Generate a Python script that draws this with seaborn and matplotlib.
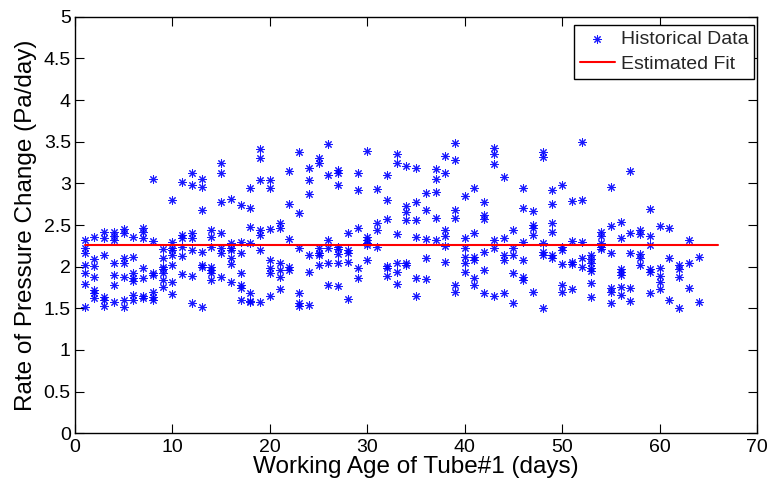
import matplotlib
matplotlib.use("Agg")
import matplotlib.pyplot as plt
from matplotlib.ticker import FuncFormatter
import seaborn as sns
import pandas as pd

# ---- data: rate of pressure change per working day ----
days_a = list(range(1, 17))
rates_a = [
    [2.32, 2.22, 2.17, 2.02, 1.93, 1.79, 1.52],
    [2.36, 2.09, 2.01, 1.88, 1.72, 1.68, 1.62],
    [2.42, 2.35, 2.14, 1.64, 1.60, 1.53],
    [2.42, 2.37, 2.32, 2.05, 1.90, 1.78, 1.58],
    [2.45, 2.40, 2.10, 2.05, 1.88, 1.60, 1.52],
    [2.36, 2.12, 1.92, 1.86, 1.83, 1.66, 1.60],
    [2.46, 2.42, 2.34, 1.99, 1.86, 1.65, 1.62],
    [3.05, 2.31, 1.92, 1.90, 1.70, 1.64, 1.60],
    [2.21, 2.10, 2.00, 1.97, 1.92, 1.84, 1.76],
    [2.80, 2.30, 2.22, 2.20, 2.14, 2.02, 1.82, 1.67],
    [3.02, 2.38, 2.35, 2.24, 2.13, 1.91],
    [3.12, 2.98, 2.40, 2.35, 2.20, 1.89, 1.57],
    [3.05, 2.96, 2.68, 2.18, 2.02, 2.00, 1.52],
    [2.44, 2.36, 2.24, 2.00, 1.96, 1.92, 1.84],
    [3.25, 3.12, 2.78, 2.41, 2.22, 2.16, 1.88],
    [2.81, 2.29, 2.22, 2.20, 2.11, 2.03, 1.82],
]
days_b = list(range(17, 33))
rates_b = [
    [2.74, 2.30, 2.17, 1.92, 1.78, 1.74, 1.60],
    [2.95, 2.70, 2.48, 2.28, 1.68, 1.59, 1.58],
    [3.41, 3.30, 3.04, 2.44, 2.38, 2.20, 1.58],
    [3.04, 2.94, 2.45, 2.08, 1.98, 1.92, 1.65],
    [2.52, 2.46, 2.04, 1.96, 1.88, 1.73],
    [3.15, 2.75, 2.33, 2.00, 1.96],
    [3.38, 2.65, 2.22, 1.69, 1.56, 1.53],
    [3.19, 3.04, 2.87, 2.14, 1.94, 1.54],
    [3.30, 3.25, 2.22, 2.17, 2.14, 2.02],
    [3.47, 3.10, 2.32, 2.23, 2.05, 1.78],
    [3.16, 3.12, 2.98, 2.24, 2.21, 2.15, 2.04, 1.77],
    [2.41, 2.20, 2.17, 2.06, 1.61],
    [3.13, 2.92, 2.47, 1.98, 1.87],
    [3.39, 2.36, 2.32, 2.28, 2.26, 2.08],
    [2.93, 2.52, 2.44, 2.24],
    [3.10, 2.80, 2.57, 2.01, 1.99, 1.89],
]
days_c = list(range(33, 49))
rates_c = [
    [3.35, 3.25, 2.39, 2.05, 1.94, 1.79],
    [3.21, 2.73, 2.66, 2.56, 2.04, 2.02],
    [3.18, 2.78, 2.56, 2.36, 1.86, 1.65],
    [2.88, 2.68, 2.33, 2.10, 1.85],
    [3.17, 3.05, 2.90, 2.58, 2.32],
    [3.33, 3.13, 2.44, 2.37, 2.25, 2.06],
    [3.48, 3.28, 2.68, 2.58, 1.78, 1.70],
    [2.85, 2.35, 2.22, 2.12, 2.04, 1.94],
    [2.94, 2.40, 2.12, 2.08, 1.86, 1.78],
    [2.78, 2.62, 2.57, 2.18, 1.96, 1.69],
    [3.43, 3.35, 3.23, 2.32, 2.22, 1.65],
    [3.08, 2.35, 2.14, 2.08, 1.68],
    [2.44, 2.23, 2.14, 1.92, 1.56],
    [2.95, 2.70, 2.30, 2.08, 1.88, 1.84],
    [2.67, 2.50, 2.47, 2.38, 1.70],
    [3.38, 3.32, 2.28, 2.18, 2.14, 1.50],
]
days_d = list(range(49, 65))
rates_d = [
    [2.92, 2.75, 2.52, 2.42, 2.14, 2.10],
    [2.98, 2.24, 2.20, 2.03, 1.78, 1.70],
    [2.79, 2.31, 2.06, 2.03, 1.73],
    [3.50, 2.80, 2.30, 2.10, 2.00],
    [2.14, 2.09, 2.05, 1.99, 1.95, 1.80, 1.64],
    [2.42, 2.37, 2.28, 2.24, 2.21],
    [2.96, 2.49, 2.16, 1.74, 1.70, 1.57],
    [2.54, 2.34, 1.97, 1.94, 1.90, 1.76, 1.66],
    [3.15, 2.40, 2.16, 1.75, 1.59],
    [2.44, 2.39, 2.15, 2.10, 2.02],
    [2.69, 2.37, 2.26, 1.97, 1.94, 1.69],
    [2.49, 1.99, 1.89, 1.82, 1.73],
    [2.46, 2.10, 1.60],
    [2.02, 1.97, 1.88, 1.50],
    [2.32, 2.04, 1.75],
    [2.12, 1.58],
]

fit_x = [1, 66]
fit_y = [2.26, 2.26]

x_ticks = [0, 10, 20, 30, 40, 50, 60, 70]
y_ticks = [0, 0.5, 1, 1.5, 2, 2.5, 3, 3.5, 4, 4.5, 5]

# ---- build table ----
rows = []
for dl, rl in ((days_a, rates_a), (days_b, rates_b), (days_c, rates_c), (days_d, rates_d)):
    for d, rs in zip(dl, rl):
        for r in rs:
            rows.append((d, r))
df = pd.DataFrame(rows, columns=["day", "rate"])
fit_df = pd.DataFrame({"day": fit_x, "rate": fit_y})

sns.set_theme(style="white")
plt.rcParams["font.family"] = ["Liberation Sans", "DejaVu Sans"]

fig = plt.figure(figsize=(7.67, 4.84), dpi=100)
ax = fig.add_axes([0.0978, 0.1047, 0.8892, 0.8608])

sns.scatterplot(data=df, x="day", y="rate", ax=ax, marker=(8, 2, 0), s=30,
                color="#0000ff", edgecolor="#0000ff", linewidth=0.75, alpha=0.9,
                label="Historical Data", zorder=3)
sns.lineplot(data=fit_df, x="day", y="rate", ax=ax, color="red", linewidth=1.5,
             label="Estimated Fit", zorder=4)

ax.set_xlim(0, 70)
ax.set_ylim(0, 5)
ax.set_xticks(x_ticks)
ax.set_yticks(y_ticks)
ax.yaxis.set_major_formatter(FuncFormatter(lambda v, p: f"{v:g}"))
ax.xaxis.set_major_formatter(FuncFormatter(lambda v, p: f"{v:g}"))
ax.tick_params(direction="in", length=6.5, width=0.8, top=True, right=True,
               bottom=True, left=True, labelsize=14, colors="black")
ax.tick_params(axis="x", pad=4)
ax.tick_params(axis="y", pad=3)
for s in ax.spines.values():
    s.set_visible(True)
    s.set_color("black")
    s.set_linewidth(1.0)

ax.set_xlabel("Working Age of Tube#1 (days)", fontsize=17.5, color="black", labelpad=0)
ax.set_ylabel("Rate of Pressure Change (Pa/day)", fontsize=17.5, color="black", labelpad=5)

leg = ax.legend(loc="upper right", bbox_to_anchor=(754 / 767, 1 - 25 / 484),
                bbox_transform=fig.transFigure, borderaxespad=0,
                fontsize=14, frameon=True, fancybox=False,
                framealpha=1, edgecolor="black",
                handlelength=1.8, handletextpad=0.3, borderpad=0.3,
                labelspacing=0.35)
leg.get_frame().set_linewidth(1.0)

fig.savefig("out.png", dpi=100)
